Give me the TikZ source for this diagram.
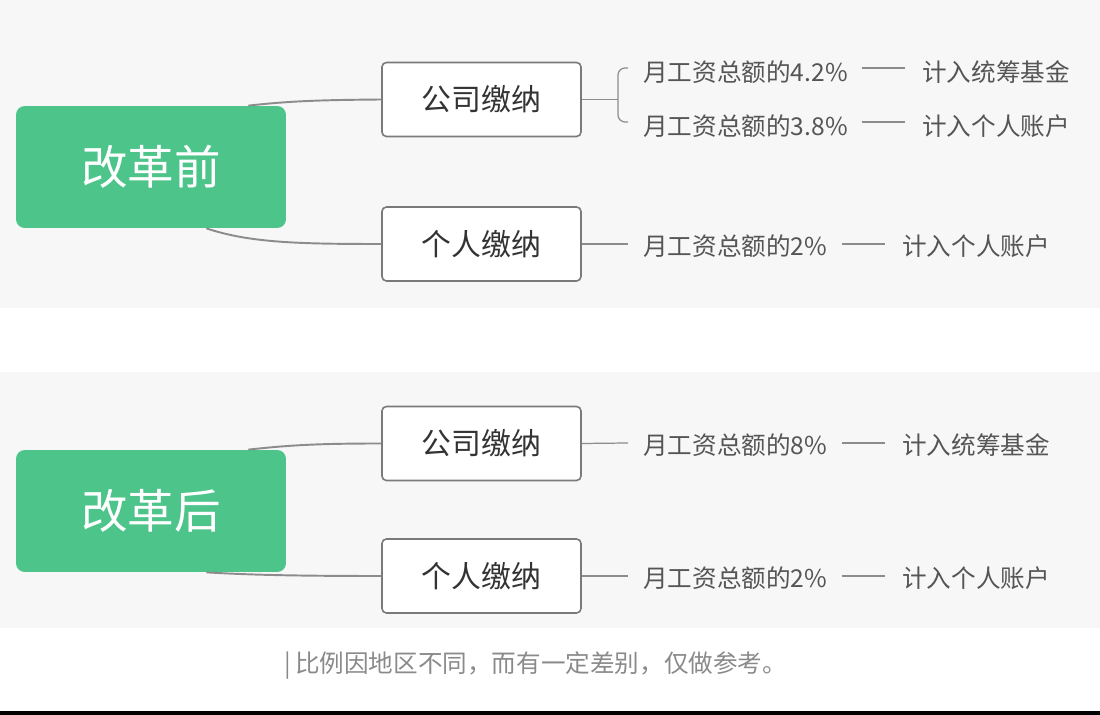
\documentclass[tikz,border=0pt]{standalone}
\usepackage{fontspec}
\newfontfamily\cjk{Noto Sans CJK SC}
\usetikzlibrary{calc}
\definecolor{panelbg}{HTML}{F7F7F7}
\definecolor{mgreen}{HTML}{4CC48A}
\definecolor{boxline}{HTML}{7A7A7A}
\definecolor{connc}{HTML}{8C8C8C}
\definecolor{txtdark}{HTML}{333333}
\definecolor{txtmid}{HTML}{555555}
\definecolor{capc}{HTML}{8A8A8A}
\begin{document}
\begin{tikzpicture}[x=0.02cm,y=-0.02cm,
  rootbox/.style={fill=mgreen,rounded corners=5pt,minimum width=5.4cm,minimum height=2.44cm,
    text=white,font=\cjk\fontsize{26.5}{30}\selectfont,inner sep=0pt},
  subbox/.style={draw=boxline,line width=0.9pt,fill=white,rounded corners=2.5pt,
    minimum width=3.98cm,minimum height=1.48cm,text=txtdark,font=\cjk\fontsize{17}{20}\selectfont,inner sep=0pt},
  leaf/.style={text=txtmid,font=\cjk\fontsize{14}{16}\selectfont,inner sep=0pt},
  conn/.style={draw=connc,line width=1.1pt},
  thin/.style={draw=connc,line width=0.7pt}]
\useasboundingbox (0,0) rectangle (1100,715);
% panels
\fill[panelbg] (0,0) rectangle (1100,308);
\fill[panelbg] (0,372) rectangle (1100,628);
\fill[black] (0,711) rectangle (1100,715);

% ---------- before reform ----------
\node[rootbox] (r1) at (151,167) {改革前};
\node[subbox] (c1) at (481.5,99.5) {公司缴纳};
\node[subbox] (p1) at (481.5,244) {个人缴纳};
\draw[conn] ($(r1.north east)+(-38,0)$) .. controls (290,101) and (320,100) .. (c1.west);
\draw[conn] ($(r1.south east)+(-80,0)$) .. controls (250,243) and (300,244) .. (p1.west);

\node[leaf,anchor=west] (a1) at (643,72) {月工资总额的4.2\%};
\node[leaf,anchor=west] (a2) at (643,126) {月工资总额的3.8\%};
\node[leaf,anchor=west] (a3) at (922,72) {计入统筹基金};
\node[leaf,anchor=west] (a4) at (922,126) {计入个人账户};
\coordinate (bk) at (618,99.5);
\draw[thin] (c1.east) -- (bk);
\draw[thin,rounded corners=4pt] ($(a1.west)+(-15,-4)$) -- (618,68) -- (618,122) -- ($(a2.west)+(-15,-4)$);
\draw[thin] ($(a1.east)+(14,-4)$) -- ($(a3.west)+(-17,-4)$);
\draw[thin] ($(a2.east)+(14,-4)$) -- ($(a4.west)+(-17,-4)$);

\node[leaf,anchor=west] (b1) at (643,246) {月工资总额的2\%};
\node[leaf,anchor=west] (b2) at (902,246) {计入个人账户};
\draw[thin] (p1.east) -- ($(b1.west)+(-15,-2)$);
\draw[thin] ($(b1.east)+(14,-2)$) -- ($(b2.west)+(-17,-2)$);

% ---------- after reform ----------
\node[rootbox] (r2) at (151,511) {改革后};
\node[subbox] (c2) at (481.5,443.5) {公司缴纳};
\node[subbox] (p2) at (481.5,576) {个人缴纳};
\draw[conn] ($(r2.north east)+(-38,0)$) .. controls (290,445) and (320,443.5) .. (c2.west);
\draw[conn] ($(r2.south east)+(-80,0)$) .. controls (250,575) and (300,576) .. (p2.west);

\node[leaf,anchor=west] (d1) at (643,445) {月工资总额的8\%};
\node[leaf,anchor=west] (d2) at (902,445) {计入统筹基金};
\draw[thin] (c2.east) -- ($(d1.west)+(-15,-2)$);
\draw[thin] ($(d1.east)+(14,-2)$) -- ($(d2.west)+(-17,-2)$);

\node[leaf,anchor=west] (e1) at (643,578) {月工资总额的2\%};
\node[leaf,anchor=west] (e2) at (902,578) {计入个人账户};
\draw[thin] (p2.east) -- ($(e1.west)+(-15,-2)$);
\draw[thin] ($(e1.east)+(14,-2)$) -- ($(e2.west)+(-17,-2)$);

% caption
\node[anchor=west,text=capc,font=\cjk\fontsize{14}{16}\selectfont,inner sep=0pt] (cap) at (284,666) {|\,比例因地区不同，而有一定差别，仅做参考。};
\end{tikzpicture}
\end{document}
